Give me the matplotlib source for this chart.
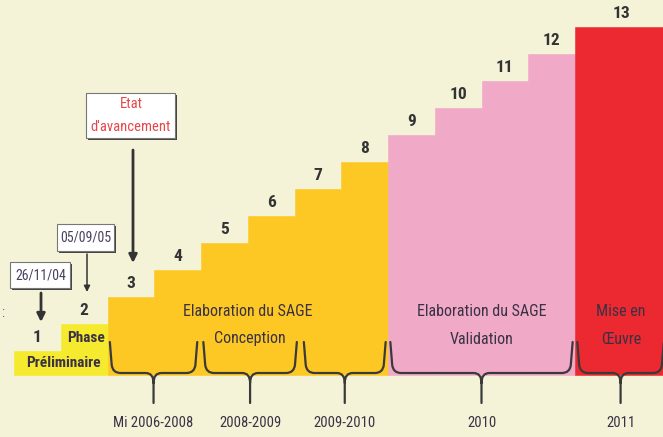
import matplotlib
matplotlib.use("Agg")
import matplotlib.pyplot as plt
from matplotlib.path import Path
from matplotlib.patches import PathPatch, Rectangle
from matplotlib import font_manager

# ---------------- data ----------------
step_numbers = list(range(1, 14))
step_levels = [1, 2, 3, 4, 5, 6, 7, 8, 9, 10, 11, 12, 13]
step_phase = [0, 0, 1, 1, 1, 1, 1, 1, 2, 2, 2, 2, 3]
phase_colors = ["#F6EA2E", "#FDC823", "#F0A9C7", "#EC2830"]
phase_line1 = ["Phase", "Elaboration du SAGE", "Elaboration du SAGE", "Mise en"]
phase_line2 = ["Préliminaire", "Conception", "Validation", "Œuvre"]
period_labels = ["Mi 2006-2008", "2008-2009", "2009-2010", "2010", "2011"]
period_start = [2.05, 4.05, 6.2, 8.05, 12.05]
period_end = [3.92, 6.05, 7.95, 11.95, 13.9]
date_labels = ["26/11/04", "05/09/05"]
status_label = ["Etat", "d'avancement"]

# ---------------- style ----------------
available = {f.name for f in font_manager.fontManager.ttflist}
narrow = "Liberation Sans"
for cand in ["Liberation Sans Narrow", "Arial Narrow", "Roboto Condensed",
             "Archivo Narrow", "Open Sans Condensed", "Asap Condensed"]:
    if cand in available:
        narrow = cand
        break
plt.rcParams["font.family"] = [narrow, "DejaVu Sans"]
BG = "#F4F3D8"
TXT = "#3A3244"
LINE = "#3A3A3A"

fig = plt.figure(figsize=(6.63, 4.37), dpi=100, facecolor=BG)
ax = fig.add_axes([0, 0, 1, 1])
ax.set_facecolor(BG)
ax.axis("off")

# pixel -> data helpers for annotation layout
def X(px):
    return (px - 14) / 46.75

def Y(py):
    return (378 - py) / 27.0

ax.set_xlim(X(0), X(663))
ax.set_ylim(Y(437), Y(0))

base = Y(375)

# ---------------- steps ----------------
lefts = [n - 1 for n in step_numbers]
widths = [1.0] * (len(step_numbers) - 1) + [2.0]
cols = [phase_colors[p] for p in step_phase]
heights = [lv - base for lv in step_levels]
ax.bar(lefts, heights, width=widths, bottom=base, align="edge",
       color=cols, edgecolor=cols, linewidth=0.4, zorder=1)

for l, w, lv, n in zip(lefts, widths, step_levels, step_numbers):
    ax.text(l + w / 2, lv + 0.5, str(n), ha="center", va="center",
            fontsize=12.5, fontweight="bold", color="#333333", zorder=3)

# ---------------- phase labels ----------------
line1_pos = [(1.55, Y(338)), (5.0, Y(312)), (10.0, Y(312)), (12.98, Y(312))]
line2_pos = [(1.05, Y(363)), (5.04, Y(339)), (10.0, Y(339)), (12.98, Y(339))]
for i in range(len(phase_line1)):
    first = i == 0
    kw = dict(ha="center", va="center", color=TXT, zorder=3,
              fontsize=11 if first else 11.5,
              fontweight="bold" if first else "normal")
    ax.text(*line1_pos[i], phase_line1[i], **kw)
    ax.text(*line2_pos[i], phase_line2[i], **kw)

# ---------------- braces ----------------
ytop, ybot, ypt, ystem = Y(342), Y(373), Y(383), Y(403)
rx, ry = 0.17, 0.3
for x0, x1, lab in zip(period_start, period_end, period_labels):
    xc = (x0 + x1) / 2
    verts = [
        (x0, ytop), (x0 + 0.04, ybot + ry), (x0 + 0.06, ybot), (x0 + 0.06 + rx, ybot),
        (xc - rx, ybot), (xc, ybot), (xc, ypt),
        (x1, ytop), (x1 - 0.04, ybot + ry), (x1 - 0.06, ybot), (x1 - 0.06 - rx, ybot),
        (xc + rx, ybot), (xc, ybot), (xc, ypt),
        (xc, ystem),
    ]
    codes = [
        Path.MOVETO, Path.LINETO, Path.CURVE3, Path.CURVE3,
        Path.LINETO, Path.CURVE3, Path.CURVE3,
        Path.MOVETO, Path.LINETO, Path.CURVE3, Path.CURVE3,
        Path.LINETO, Path.CURVE3, Path.CURVE3,
        Path.LINETO,
    ]
    ax.add_patch(PathPatch(Path(verts, codes), facecolor="none",
                           edgecolor=LINE, lw=1.6, zorder=4, capstyle="round"))
    ax.text(xc, Y(423), lab, ha="center", va="center", fontsize=10.5,
            color=TXT, zorder=3)

# ---------------- date boxes & arrows ----------------
def box(x0p, y0p, x1p, y1p):
    sh = 1.6
    ax.add_patch(Rectangle((X(x0p + sh), Y(y1p + sh)), X(x1p) - X(x0p), Y(y0p) - Y(y1p),
                           facecolor="#444444", edgecolor="none", zorder=5))
    ax.add_patch(Rectangle((X(x0p), Y(y1p)), X(x1p) - X(x0p), Y(y0p) - Y(y1p),
                           facecolor="white", edgecolor="#777777", lw=0.8, zorder=6))

def arrow(xp, y0p, y1p, lw, ms):
    ax.annotate("", xy=(X(xp), Y(y1p)), xytext=(X(xp), Y(y0p)),
                arrowprops=dict(arrowstyle="-|>", lw=lw, color="#333333",
                                mutation_scale=ms, shrinkA=0, shrinkB=0),
                zorder=5)

box(10, 262, 70, 288)
ax.text(X(40.5), Y(275.5), date_labels[0], ha="center", va="center",
        fontsize=10, color="#4A4060", zorder=7)
arrow(41, 293, 322, 2.0, 12)

box(57, 224, 114, 251)
ax.text(X(85.5), Y(238), date_labels[1], ha="center", va="center",
        fontsize=10, color="#4A4060", zorder=7)
arrow(87, 254, 292, 1.1, 9)

box(86, 93, 175, 138)
ax.text(X(131), Y(104.5), status_label[0], ha="center", va="center",
        fontsize=10.5, color="#E8474A", zorder=7)
ax.text(X(131), Y(127), status_label[1], ha="center", va="center",
        fontsize=10.5, color="#E8474A", zorder=7)
arrow(133, 150, 263, 2.0, 12)

ax.text(X(3), Y(313), ":", ha="center", va="center", fontsize=10,
        color="#666666", zorder=3)

fig.savefig("out.png", dpi=100, facecolor=BG)
